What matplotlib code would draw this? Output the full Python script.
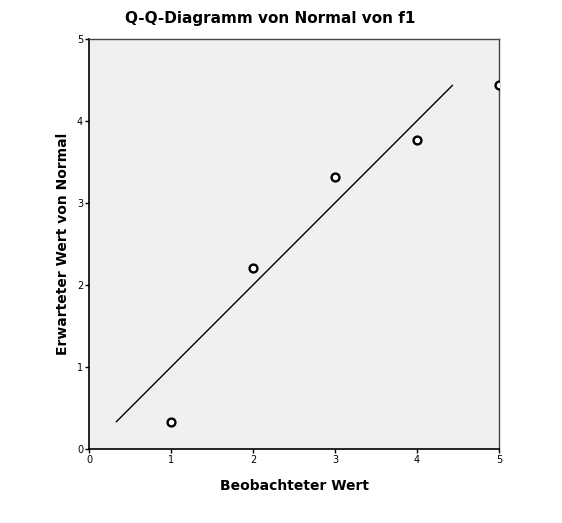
import matplotlib
matplotlib.use('Agg')
import matplotlib.pyplot as plt

# observed vs expected normal quantiles
beobachtet = [1, 2, 3, 4, 5]
erwartet = [0.33, 2.20, 3.31, 3.77, 4.43]
ref_line = [0.33, 4.43]

fig = plt.figure(figsize=(5.62, 5.23), dpi=100)
ax = fig.add_axes([0.159, 0.142, 0.729, 0.784])
ax.set_facecolor('#f0f0f0')

ax.plot(ref_line, ref_line, color='black', lw=1.0)
pts = ax.scatter(beobachtet, erwartet, s=32, facecolors='white', edgecolors='black',
                 linewidths=1.7, zorder=3)
pts.set_clip_path(ax.patch)

ax.set_xlim(0, 5)
ax.set_ylim(0, 5)
ax.set_xticks([0, 1, 2, 3, 4, 5])
ax.set_yticks([0, 1, 2, 3, 4, 5])
ax.tick_params(direction='out', length=3, width=1, labelsize=7, pad=1.5)

for side in ['left', 'bottom']:
    ax.spines[side].set_color('black')
    ax.spines[side].set_linewidth(1.2)
for side in ['top', 'right']:
    ax.spines[side].set_color('#444444')
    ax.spines[side].set_linewidth(1.0)

fig.text(270 / 562, 1 - 19 / 523, 'Q-Q-Diagramm von Normal von f1', fontsize=11,
         fontweight='bold', ha='center', va='center')
ax.set_xlabel('Beobachteter Wert', fontsize=10, fontweight='bold', labelpad=10)
ax.set_ylabel('Erwarteter Wert von Normal', fontsize=10, fontweight='bold', labelpad=5)

plt.savefig('out.png', dpi=100)
